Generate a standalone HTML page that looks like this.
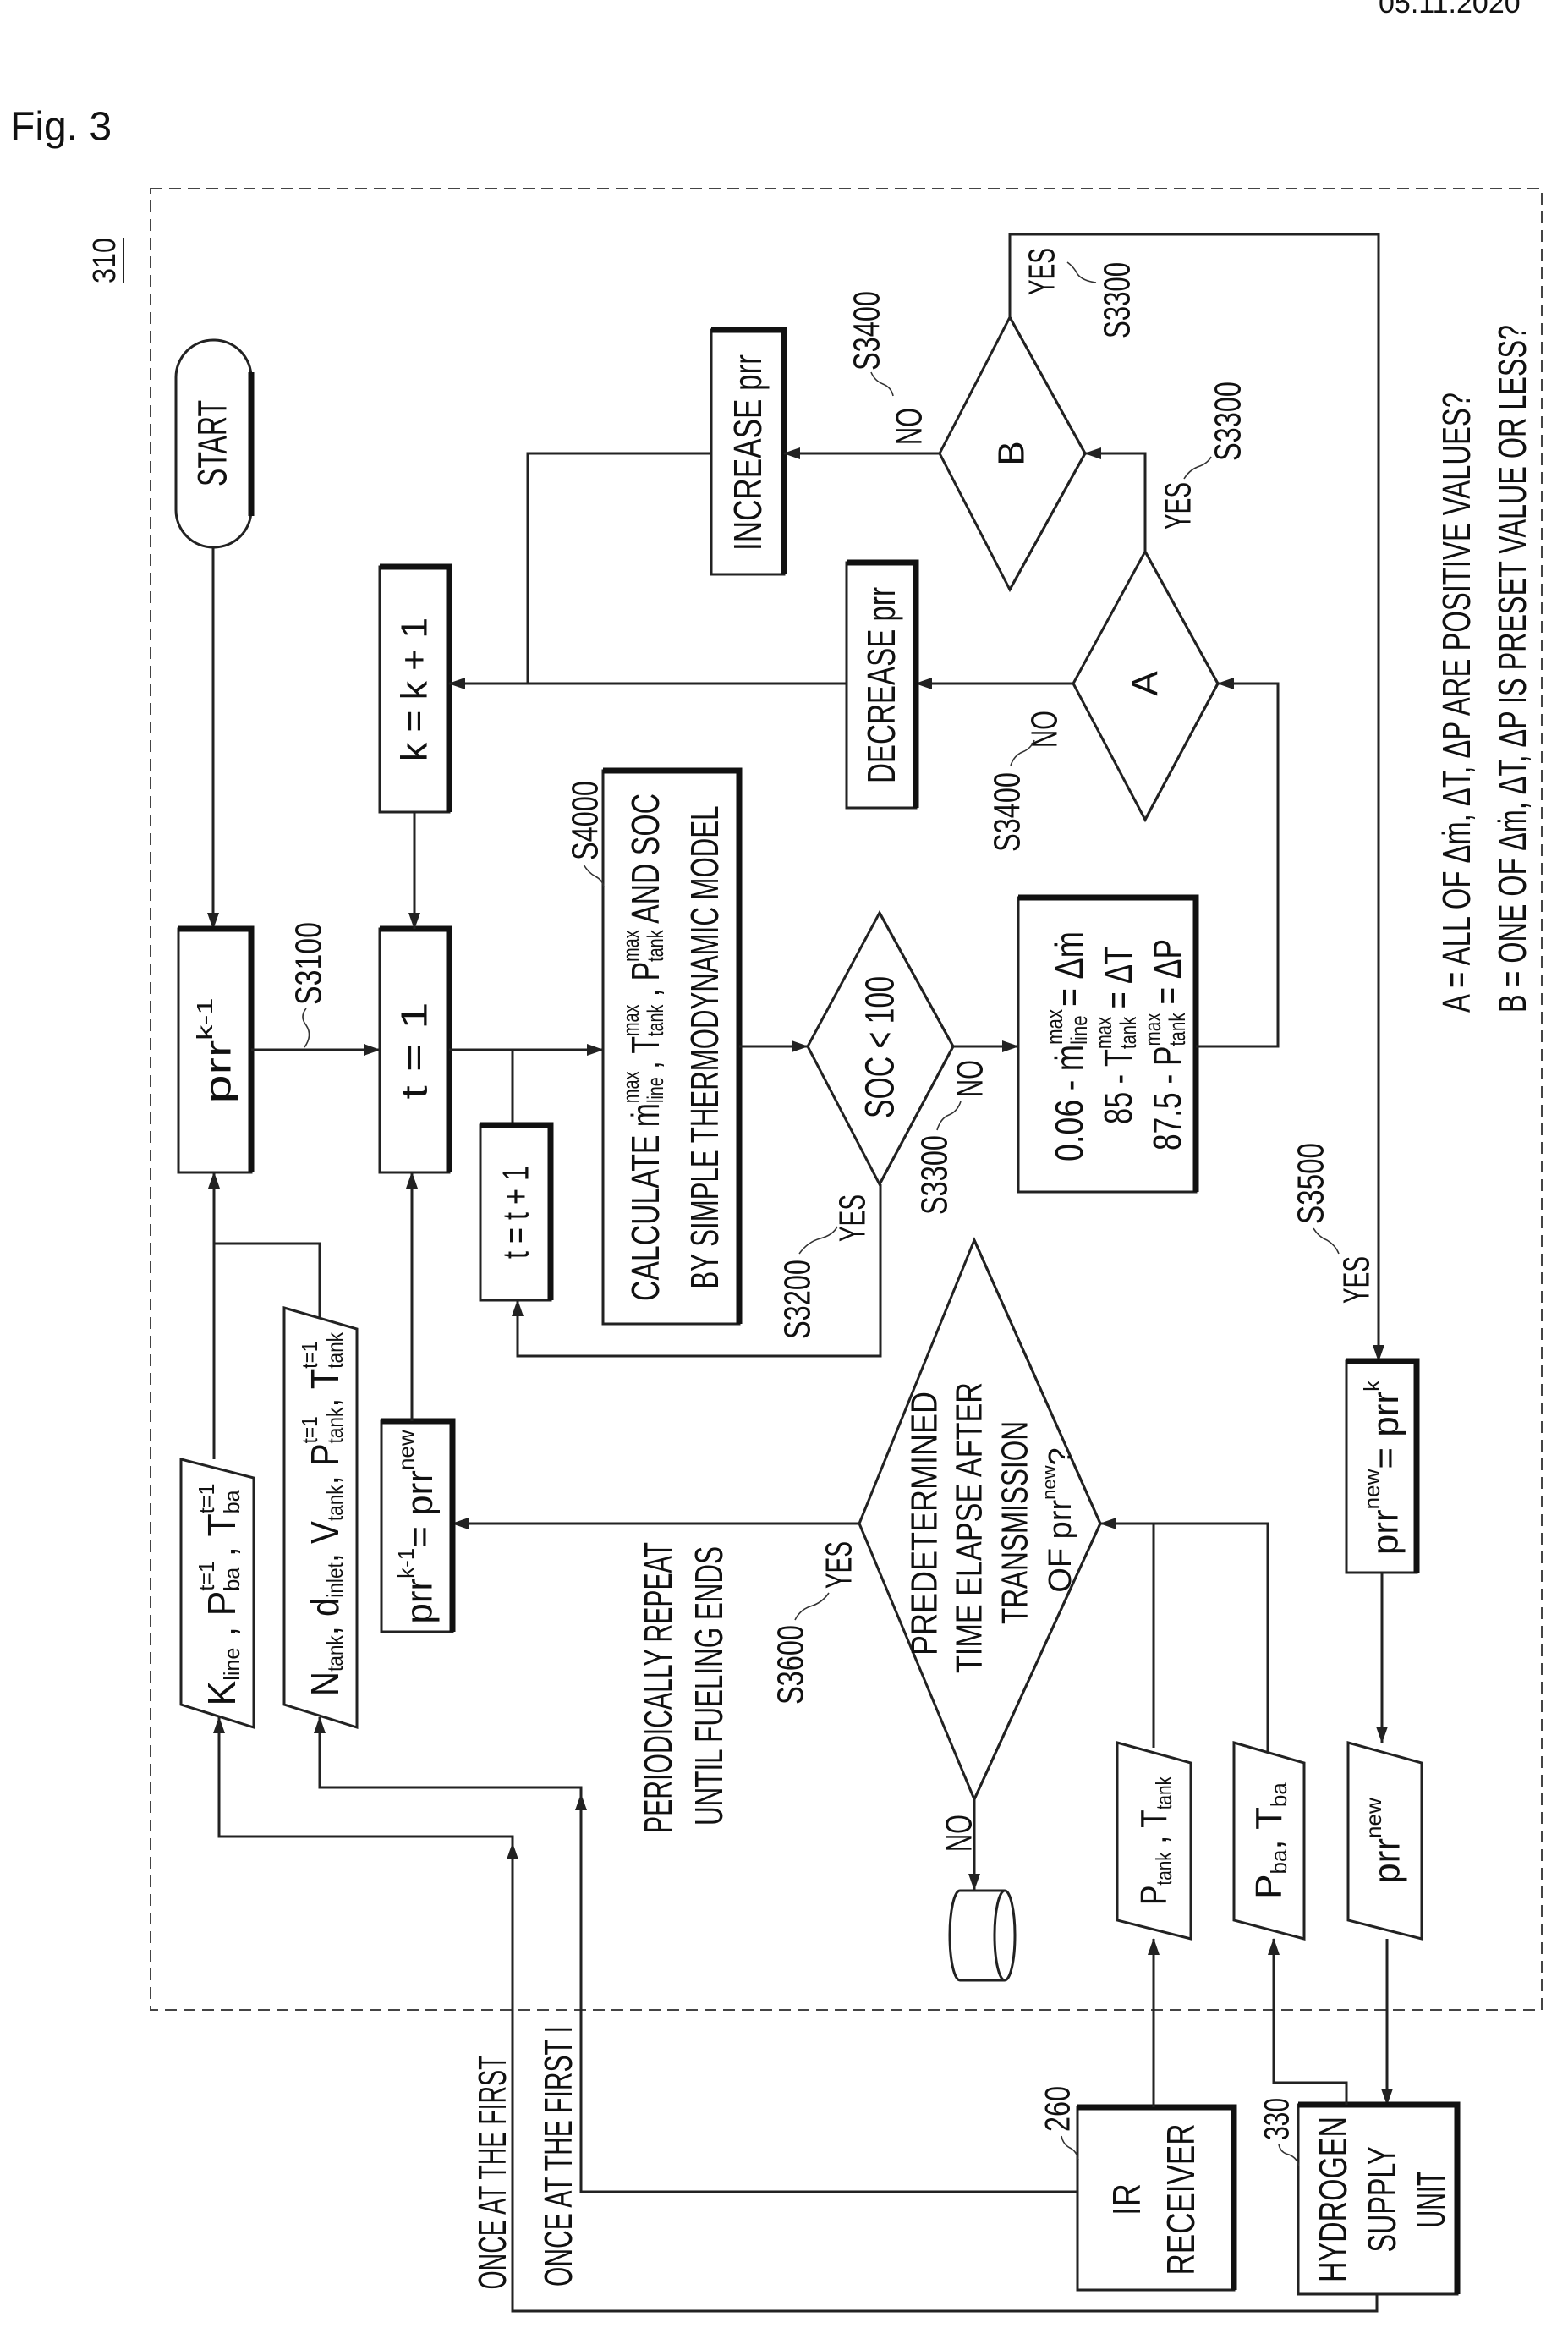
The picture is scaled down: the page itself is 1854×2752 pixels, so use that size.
<!DOCTYPE html>
<html><head><meta charset="utf-8">
<style>
html,body{margin:0;padding:0;background:#fff;}
svg{display:block;}
text{font-family:"Liberation Sans",sans-serif;fill:#111;dominant-baseline:central;text-anchor:middle;}
.ln{fill:none;stroke:#222;stroke-width:3;}
.bx{fill:#fff;stroke:#222;stroke-width:3;}
.th{fill:none;stroke:#111;stroke-width:7;}
.sq{fill:none;stroke:#333;stroke-width:1.6;}
</style></head><body>
<svg width="1854" height="2752" viewBox="0 0 1854 2752" xmlns="http://www.w3.org/2000/svg">
<defs>
<marker id="a" markerWidth="20" markerHeight="14" refX="19" refY="7" orient="auto" markerUnits="userSpaceOnUse"><path d="M0,0 L20,7 L0,14 z" fill="#222"/></marker>
</defs>
<rect width="1854" height="2752" fill="#fff"/>

<text x="12" y="150" style="text-anchor:start;font-size:48px">Fig. 3</text>
<text x="1630" y="4" style="text-anchor:start;font-size:34px">05.11.2020</text>

<rect x="178" y="223" width="1645" height="2153" fill="none" stroke="#444" stroke-width="2" stroke-dasharray="14 8"/>

<text transform="translate(124,308) rotate(-90)" font-size="38" textLength="54" lengthAdjust="spacingAndGlyphs">310</text>
<line x1="146" y1="281" x2="146" y2="335" stroke="#222" stroke-width="2"/>

<rect x="208" y="402" width="89" height="245" rx="44" class="bx"/>
<path d="M297,440 L297,610" class="th" stroke-width="5"/>
<text transform="translate(252,524) rotate(-90)" font-size="48" textLength="102" lengthAdjust="spacingAndGlyphs">START</text>
<path d="M252,647 L252,1098" class="ln" marker-end="url(#a)"/>

<rect x="211" y="1098" width="86" height="288" class="bx"/>
<path d="M211,1098 L297,1098 L297,1386" class="th"/>
<text transform="translate(258,1242) rotate(-90)" font-size="44" textLength="125" lengthAdjust="spacingAndGlyphs">prr<tspan font-size="26" dy="-16">k-1</tspan></text>

<text transform="translate(365,1139) rotate(-90)" font-size="44" textLength="98" lengthAdjust="spacingAndGlyphs">S3100</text>
<path d="M362,1192 q-8,10 0,20 q8,12 -2,26" class="sq"/>
<path d="M297,1241 L449,1241" class="ln" marker-end="url(#a)"/>

<rect x="449" y="1098" width="82" height="288" class="bx"/>
<path d="M449,1098 L531,1098 L531,1386" class="th"/>
<text transform="translate(490,1242) rotate(-90)" font-size="44" textLength="115" lengthAdjust="spacingAndGlyphs">t = 1</text>

<rect x="449" y="670" width="82" height="290" class="bx"/>
<path d="M449,670 L531,670 L531,960" class="th"/>
<text transform="translate(490,815) rotate(-90)" font-size="44" textLength="170" lengthAdjust="spacingAndGlyphs">k = k + 1</text>
<path d="M490,960 L490,1098" class="ln" marker-end="url(#a)"/>

<path d="M531,1241 L713,1241" class="ln" marker-end="url(#a)"/>
<path d="M606,1330 L606,1241" class="ln"/>

<rect x="568" y="1330" width="83" height="207" class="bx"/>
<path d="M568,1330 L651,1330 L651,1537" class="th"/>
<text transform="translate(610,1433) rotate(-90)" font-size="44" textLength="110" lengthAdjust="spacingAndGlyphs">t = t + 1</text>
<path d="M1041,1400 L1041,1603 L612,1603 L612,1537" class="ln" marker-end="url(#a)"/>
<text transform="translate(943,1536) rotate(-90)" font-size="44" textLength="94" lengthAdjust="spacingAndGlyphs">S3200</text>
<text transform="translate(1008,1440) rotate(-90)" font-size="44" textLength="56" lengthAdjust="spacingAndGlyphs">YES</text>
<path d="M945,1482 q10,-14 25,-18 q15,-4 20,-14" class="sq"/>

<rect x="713" y="911" width="161" height="654" class="bx"/>
<path d="M713,911 L874,911 L874,1565" class="th"/>
<text transform="translate(763,1238) rotate(-90)" font-size="46" textLength="600" lengthAdjust="spacingAndGlyphs">CALCULATE ṁ<tspan font-size="27" dy="-17">max</tspan><tspan font-size="27" dx="-51" dy="29">line</tspan><tspan dy="-12"> , T</tspan><tspan font-size="27" dy="-17">max</tspan><tspan font-size="27" dx="-51" dy="29">tank</tspan><tspan dy="-12"> , P</tspan><tspan font-size="27" dy="-17">max</tspan><tspan font-size="27" dx="-51" dy="29">tank</tspan><tspan dy="-12"> AND SOC</tspan></text>
<text transform="translate(833,1238) rotate(-90)" font-size="46" textLength="571" lengthAdjust="spacingAndGlyphs">BY SIMPLE THERMODYNAMIC MODEL</text>
<text transform="translate(692,970) rotate(-90)" font-size="44" textLength="94" lengthAdjust="spacingAndGlyphs">S4000</text>
<path d="M690,1022 q6,10 14,14 q8,4 10,12" class="sq"/>
<path d="M874,1237 L955,1237" class="ln" marker-end="url(#a)"/>

<path d="M955,1237 L1040,1079 L1127,1237 L1040,1400 Z" class="bx"/>
<path d="M1040,1079 L1127,1237 L1040,1400" class="ln" stroke-width="6"/>
<text transform="translate(1041,1238) rotate(-90)" font-size="48" textLength="168" lengthAdjust="spacingAndGlyphs">SOC &lt; 100</text>
<text transform="translate(1147,1275) rotate(-90)" font-size="44" textLength="44" lengthAdjust="spacingAndGlyphs">NO</text>
<text transform="translate(1105,1389) rotate(-90)" font-size="44" textLength="94" lengthAdjust="spacingAndGlyphs">S3300</text>
<path d="M1108,1336 q4,-14 14,-18 q10,-4 14,-16" class="sq"/>
<path d="M1127,1237 L1204,1237" class="ln" marker-end="url(#a)"/>

<rect x="1204" y="1061" width="210" height="348" class="bx"/>
<path d="M1204,1061 L1414,1061 L1414,1409" class="th"/>
<text transform="translate(1264,1237) rotate(-90)" font-size="46" textLength="272" lengthAdjust="spacingAndGlyphs">0.06 - ṁ<tspan font-size="27" dy="-17">max</tspan><tspan font-size="27" dx="-51" dy="29">line</tspan><tspan dy="-12"> = Δṁ</tspan></text>
<text transform="translate(1322,1224) rotate(-90)" font-size="46" textLength="210" lengthAdjust="spacingAndGlyphs">85 - T<tspan font-size="27" dy="-17">max</tspan><tspan font-size="27" dx="-51" dy="29">tank</tspan><tspan dy="-12"> = ΔT</tspan></text>
<text transform="translate(1380,1235) rotate(-90)" font-size="46" textLength="250" lengthAdjust="spacingAndGlyphs">87.5 - P<tspan font-size="27" dy="-17">max</tspan><tspan font-size="27" dx="-51" dy="29">tank</tspan><tspan dy="-12"> = ΔP</tspan></text>
<path d="M1414,1237 L1511,1237 L1511,808 L1440,808" class="ln" marker-end="url(#a)"/>

<path d="M1269,808 L1354,652 L1440,808 L1354,969 Z" class="bx"/>
<path d="M1354,652 L1440,808 L1354,969" class="ln" stroke-width="6"/>
<text transform="translate(1354,808) rotate(-90)" font-size="44">A</text>
<path d="M1269,808 L1083,808" class="ln" marker-end="url(#a)"/>
<text transform="translate(1235,862) rotate(-90)" font-size="44" textLength="44" lengthAdjust="spacingAndGlyphs">NO</text>
<text transform="translate(1191,960) rotate(-90)" font-size="44" textLength="94" lengthAdjust="spacingAndGlyphs">S3400</text>
<path d="M1195,905 q4,-12 14,-16 q10,-4 14,-14" class="sq"/>

<rect x="1001" y="665" width="82" height="290" class="bx"/>
<path d="M1001,665 L1083,665 L1083,955" class="th"/>
<text transform="translate(1042,810) rotate(-90)" font-size="46" textLength="232" lengthAdjust="spacingAndGlyphs">DECREASE prr</text>
<path d="M1001,808 L531,808" class="ln" marker-end="url(#a)"/>
<path d="M841,536 L624,536 L624,808" class="ln"/>

<rect x="841" y="390" width="86" height="289" class="bx"/>
<path d="M841,390 L927,390 L927,679" class="th"/>
<text transform="translate(884,535) rotate(-90)" font-size="46" textLength="232" lengthAdjust="spacingAndGlyphs">INCREASE prr</text>

<path d="M1111,536 L1194,375 L1283,536 L1194,697 Z" class="bx"/>
<path d="M1194,375 L1283,536 L1194,697" class="ln" stroke-width="6"/>
<text transform="translate(1196,536) rotate(-90)" font-size="44">B</text>
<path d="M1111,536 L927,536" class="ln" marker-end="url(#a)"/>
<text transform="translate(1075,504) rotate(-90)" font-size="44" textLength="44" lengthAdjust="spacingAndGlyphs">NO</text>
<text transform="translate(1025,391) rotate(-90)" font-size="44" textLength="94" lengthAdjust="spacingAndGlyphs">S3400</text>
<path d="M1030,440 q4,10 14,14 q10,4 12,14" class="sq"/>
<path d="M1354,652 L1354,536 L1283,536" class="ln" marker-end="url(#a)"/>
<text transform="translate(1393,598) rotate(-90)" font-size="44" textLength="56" lengthAdjust="spacingAndGlyphs">YES</text>
<text transform="translate(1452,498) rotate(-90)" font-size="44" textLength="94" lengthAdjust="spacingAndGlyphs">S3300</text>
<path d="M1400,566 q6,-10 16,-14 q12,-4 16,-12" class="sq"/>
<path d="M1194,375 L1194,277 L1630,277 L1630,1609" class="ln" marker-end="url(#a)"/>
<text transform="translate(1232,321) rotate(-90)" font-size="44" textLength="56" lengthAdjust="spacingAndGlyphs">YES</text>
<text transform="translate(1321,355) rotate(-90)" font-size="44" textLength="90" lengthAdjust="spacingAndGlyphs">S3300</text>
<path d="M1262,310 q8,6 12,14 q6,8 22,10" class="sq"/>

<text transform="translate(1722,1197) rotate(-90)" font-size="46" style="text-anchor:start" textLength="733" lengthAdjust="spacingAndGlyphs">A = ALL OF Δṁ, ΔT, ΔP ARE POSITIVE VALUES?</text>
<text transform="translate(1788,1197) rotate(-90)" font-size="46" style="text-anchor:start" textLength="813" lengthAdjust="spacingAndGlyphs">B = ONE OF Δṁ, ΔT, ΔP IS PRESET VALUE OR LESS?</text>

<rect x="1592" y="1609" width="83" height="250" class="bx"/>
<path d="M1592,1609 L1675,1609 L1675,1859" class="th"/>
<text transform="translate(1638,1735) rotate(-90)" font-size="44">prr<tspan font-size="26" dy="-16">new</tspan><tspan dy="16">= prr</tspan><tspan font-size="26" dy="-16">k</tspan></text>
<text transform="translate(1604,1513) rotate(-90)" font-size="44" textLength="56" lengthAdjust="spacingAndGlyphs">YES</text>
<text transform="translate(1550,1399) rotate(-90)" font-size="44" textLength="96" lengthAdjust="spacingAndGlyphs">S3500</text>
<path d="M1553,1452 q6,10 16,14 q10,6 14,16" class="sq"/>
<path d="M1634,1859 L1634,2060" class="ln" marker-end="url(#a)"/>

<path d="M1594,2060 L1681,2084 L1681,2292 L1594,2270 Z" class="bx"/>
<text transform="translate(1640,2176) rotate(-90)" font-size="44">prr<tspan font-size="26" dy="-16">new</tspan></text>
<path d="M1640,2292 L1640,2488" class="ln" marker-end="url(#a)"/>

<rect x="1535" y="2488" width="188" height="224" class="bx"/>
<path d="M1535,2488 L1723,2488 L1723,2712" class="th"/>
<text transform="translate(1576,2600) rotate(-90)" font-size="46" textLength="196" lengthAdjust="spacingAndGlyphs">HYDROGEN</text>
<text transform="translate(1634,2600) rotate(-90)" font-size="46" textLength="125" lengthAdjust="spacingAndGlyphs">SUPPLY</text>
<text transform="translate(1692,2600) rotate(-90)" font-size="46" textLength="67" lengthAdjust="spacingAndGlyphs">UNIT</text>
<text transform="translate(1509,2505) rotate(-90)" font-size="42" textLength="50" lengthAdjust="spacingAndGlyphs">330</text>
<path d="M1512,2535 q2,10 12,12 q10,4 12,14" class="sq"/>

<rect x="1274" y="2491" width="185" height="216" class="bx"/>
<path d="M1274,2491 L1459,2491 L1459,2707" class="th"/>
<text transform="translate(1332,2600) rotate(-90)" font-size="46" textLength="38" lengthAdjust="spacingAndGlyphs">IR</text>
<text transform="translate(1396,2600) rotate(-90)" font-size="46" textLength="179" lengthAdjust="spacingAndGlyphs">RECEIVER</text>
<text transform="translate(1250,2493) rotate(-90)" font-size="42" textLength="54" lengthAdjust="spacingAndGlyphs">260</text>
<path d="M1255,2525 q2,10 10,14 q8,4 10,14" class="sq"/>

<path d="M1459,2060 L1542,2084 L1542,2292 L1459,2270 Z" class="bx"/>
<text transform="translate(1500,2176) rotate(-90)" font-size="44">P<tspan font-size="26" dy="12">ba</tspan><tspan dy="-12">, T</tspan><tspan font-size="26" dy="12">ba</tspan></text>
<path d="M1321,2060 L1408,2084 L1408,2292 L1321,2270 Z" class="bx"/>
<text transform="translate(1364,2176) rotate(-90)" font-size="44" textLength="152" lengthAdjust="spacingAndGlyphs">P<tspan font-size="26" dy="12">tank</tspan><tspan dy="-12"> , T</tspan><tspan font-size="26" dy="12">tank</tspan></text>
<path d="M1364,2491 L1364,2292" class="ln" marker-end="url(#a)"/>
<path d="M1592,2488 L1592,2462 L1506,2462 L1506,2292" class="ln" marker-end="url(#a)"/>
<path d="M1499,2072 L1499,1801 L1364,1801" class="ln"/>
<path d="M1364,2066 L1364,1801 L1301,1801" class="ln" marker-end="url(#a)"/>

<path d="M1016,1801 L1152,1466 L1301,1801 L1152,2127 Z" class="bx"/>
<path d="M1152,1466 L1301,1801 L1152,2127" class="ln" stroke-width="6"/>
<text transform="translate(1093,1801) rotate(-90)" font-size="44" textLength="312" lengthAdjust="spacingAndGlyphs">PREDETERMINED</text>
<text transform="translate(1146,1806) rotate(-90)" font-size="44" textLength="344" lengthAdjust="spacingAndGlyphs">TIME ELAPSE AFTER</text>
<text transform="translate(1200,1800) rotate(-90)" font-size="44" textLength="240" lengthAdjust="spacingAndGlyphs">TRANSMISSION</text>
<text transform="translate(1254,1797) rotate(-90)" font-size="38">OF prr<tspan font-size="22" dy="-14">new</tspan><tspan dy="14">?</tspan></text>
<path d="M1016,1801 L535,1801" class="ln" marker-end="url(#a)"/>
<text transform="translate(935,1968) rotate(-90)" font-size="44" textLength="94" lengthAdjust="spacingAndGlyphs">S3600</text>
<text transform="translate(992,1850) rotate(-90)" font-size="44" textLength="56" lengthAdjust="spacingAndGlyphs">YES</text>
<path d="M940,1915 q6,-12 18,-16 q14,-4 22,-16" class="sq"/>
<text transform="translate(778,1995) rotate(-90)" font-size="46" textLength="344" lengthAdjust="spacingAndGlyphs">PERIODICALLY REPEAT</text>
<text transform="translate(838,1993) rotate(-90)" font-size="46" textLength="330" lengthAdjust="spacingAndGlyphs">UNTIL FUELING ENDS</text>

<path d="M1152,2127 L1152,2234" class="ln" marker-end="url(#a)"/>
<text transform="translate(1134,2167) rotate(-90)" font-size="44" textLength="44" lengthAdjust="spacingAndGlyphs">NO</text>
<path d="M1188,2235 L1135,2235 A12,53 0 0 0 1135,2341 L1188,2341" class="ln" fill="#fff"/>
<ellipse cx="1188" cy="2288" rx="12" ry="53" class="bx"/>

<rect x="451" y="1680" width="84" height="249" class="bx"/>
<path d="M451,1680 L535,1680 L535,1929" class="th"/>
<text transform="translate(496,1805) rotate(-90)" font-size="44">prr<tspan font-size="26" dy="-16">k-1</tspan><tspan dy="16">= prr</tspan><tspan font-size="26" dy="-16">new</tspan></text>
<path d="M487,1680 L487,1386" class="ln" marker-end="url(#a)"/>

<path d="M214,1725 L300,1747 L300,2042 L214,2015 Z" class="bx"/>
<text transform="translate(262,1885) rotate(-90)" font-size="46" textLength="263" lengthAdjust="spacingAndGlyphs">K<tspan font-size="26" dy="12">line</tspan><tspan dy="-12"> , P</tspan><tspan font-size="26" dy="-18">t=1</tspan><tspan font-size="26" dx="-37" dy="30">ba</tspan><tspan dy="-12"> , T</tspan><tspan font-size="26" dy="-18">t=1</tspan><tspan font-size="26" dx="-37" dy="30">ba</tspan></text>
<path d="M336,1546 L422,1571 L422,2042 L336,2015 Z" class="bx"/>
<text transform="translate(384,1790) rotate(-90)" font-size="46" textLength="430" lengthAdjust="spacingAndGlyphs">N<tspan font-size="26" dy="12">tank</tspan><tspan dy="-12">, d</tspan><tspan font-size="26" dy="12">inlet</tspan><tspan dy="-12">, V</tspan><tspan font-size="26" dy="12">tank</tspan><tspan dy="-12">, P</tspan><tspan font-size="26" dy="-18">t=1</tspan><tspan font-size="26" dx="-37" dy="30">tank</tspan><tspan dy="-12">, T</tspan><tspan font-size="26" dy="-18">t=1</tspan><tspan font-size="26" dx="-37" dy="30">tank</tspan></text>
<path d="M253,1725 L253,1386" class="ln" marker-end="url(#a)"/>
<path d="M253,1470 L378,1470 L378,1558" class="ln"/>

<path d="M1274,2591 L687,2591 L687,2113 L378,2113 L378,2030" class="ln" marker-end="url(#a)"/>
<path d="M687,2120 l-7,20 l14,0 z" fill="#222"/>
<path d="M1628,2712 L1628,2732 L606,2732 L606,2171 L259,2171 L259,2030" class="ln" marker-end="url(#a)"/>
<path d="M606,2178 l-7,20 l14,0 z" fill="#222"/>
<text transform="translate(582,2568) rotate(-90)" font-size="46" textLength="277" lengthAdjust="spacingAndGlyphs">ONCE AT THE FIRST</text>
<text transform="translate(660,2549) rotate(-90)" font-size="46" textLength="308" lengthAdjust="spacingAndGlyphs">ONCE AT THE FIRST I</text>
</svg>
</body></html>
